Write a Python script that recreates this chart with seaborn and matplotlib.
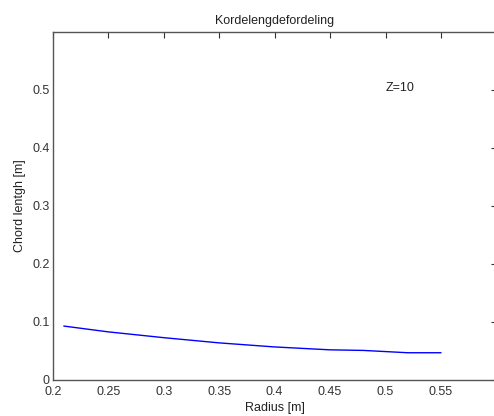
import matplotlib
matplotlib.use("Agg")
import matplotlib.pyplot as plt
import seaborn as sns
import pandas as pd

radius = [0.21, 0.25, 0.30, 0.35, 0.40, 0.45, 0.48, 0.50, 0.52, 0.55]
chord = [0.093, 0.083, 0.073, 0.064, 0.057, 0.052, 0.051, 0.049, 0.047, 0.047]
x_ticks = [0.2, 0.25, 0.3, 0.35, 0.4, 0.45, 0.5, 0.55]
x_tick_labels = ["0.2", "0.25", "0.3", "0.35", "0.4", "0.45", "0.5", "0.55"]
y_ticks = [0, 0.1, 0.2, 0.3, 0.4, 0.5]
y_tick_labels = ["0", "0.1", "0.2", "0.3", "0.4", "0.5"]
title = "Kordelengdefordeling"
xlabel = "Radius [m]"
ylabel = "Chord lentgh [m]"
annotation = "Z=10"

sns.set_style("white")
plt.rcParams['font.family'] = ['Liberation Sans', 'DejaVu Sans']

df = pd.DataFrame({"radius": radius, "chord": chord})

fig = plt.figure(figsize=(4.94, 4.16), dpi=100)
ax = fig.add_axes([52.7 / 494, 36 / 416, (496.5 - 52.7) / 494, (380 - 32) / 416])
sns.lineplot(data=df, x="radius", y="chord", ax=ax, color=(0, 0, 1), linewidth=1.0)

ax.set_xlim(0.2, 0.6)
ax.set_ylim(0, 0.6)
ax.set_xticks(x_ticks)
ax.set_xticklabels(x_tick_labels)
ax.set_yticks(y_ticks)
ax.set_yticklabels(y_tick_labels)
ax.tick_params(direction="in", length=4, width=0.8, colors="#333333",
               labelsize=9, top=True, right=True, pad=2, labelcolor="#333333")
ax.tick_params(axis="x", pad=4.5)
for s in ax.spines.values():
    s.set_color("#555555")
    s.set_linewidth(1.0)

ax.set_title(title, fontsize=9, color="#222222", pad=6)
ax.set_xlabel(xlabel, fontsize=9, color="#222222", labelpad=3)
ax.set_ylabel(ylabel, fontsize=9, color="#222222", labelpad=5)
ax.text(0.5, 0.503, annotation, fontsize=9, color="#222222", ha="left", va="center")

fig.savefig("out.png", dpi=100)
